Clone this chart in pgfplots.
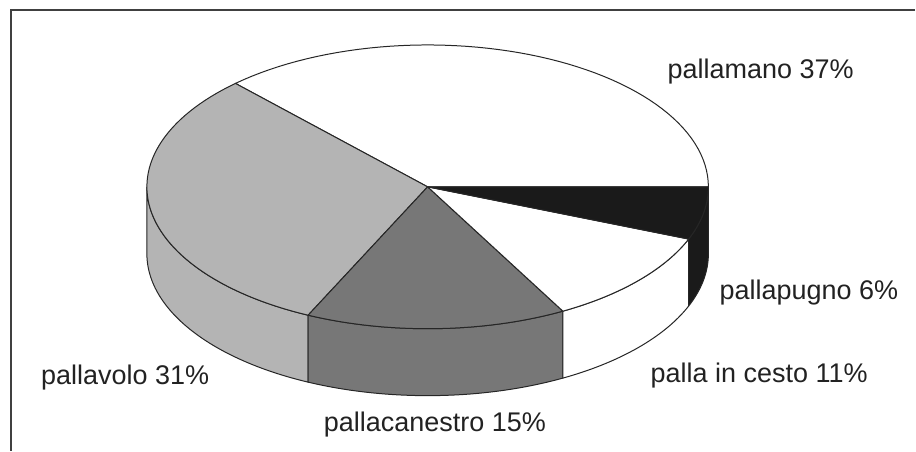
\documentclass[border=0pt]{standalone}
\usepackage{fontspec}
\setmainfont{Liberation Sans}
\usepackage{pgfplots}
\pgfplotsset{compat=1.18}
\definecolor{lgray}{HTML}{B4B4B4}
\definecolor{dgray}{HTML}{777777}
\definecolor{blk}{HTML}{1A1A1A}
\definecolor{ink}{HTML}{222222}
% top face of a slice from angle #1 to #2, fill #3
\newcommand{\topface}[3]{%
\addplot[fill=#3, draw=black!85, line width=1pt, line join=round, domain=0:3, samples=181]
 ({428+281*(min(x,1)-max(x-2,0))*cos(#1+(#2-#1)*min(max(x-1,0),1))},
  {264+142*(min(x,1)-max(x-2,0))*sin(#1+(#2-#1)*min(max(x-1,0),1))});}
% side wall of a slice from angle #1 to #2, fill #3
\newcommand{\wall}[3]{%
\addplot[fill=#3, draw=black!85, line width=1pt, line join=round, domain=0:4, samples=241]
 ({428+281*cos(#1+(#2-#1)*min(x,1)-(#2-#1)*min(max(x-2,0),1))},
  {264+142*sin(#1+(#2-#1)*min(x,1)-(#2-#1)*min(max(x-2,0),1))-67*(min(max(x-1,0),1)-max(x-3,0))});}
\begin{document}
\begin{tikzpicture}
% shares in percent
\def\sA{37}% pallamano
\def\sB{31}% pallavolo
\def\sC{15}% pallacanestro
\def\sD{11}% palla in cesto
\def\sE{6}%  pallapugno
\pgfmathsetmacro\aA{0}
\pgfmathsetmacro\aB{\aA+3.6*\sA}
\pgfmathsetmacro\aC{\aB+3.6*\sB}
\pgfmathsetmacro\aD{\aC+3.6*\sC}
\pgfmathsetmacro\aE{\aD+3.6*\sD}
\pgfmathsetmacro\aF{\aE+3.6*\sE}
\begin{axis}[
  hide axis, scale only axis,
  width=916pt, height=451pt,
  xmin=0, xmax=916, ymin=0, ymax=451,
  clip=false,
]
% full page extent (invisible)
\addplot[draw=none] coordinates {(0,0) (916,451)};
% frame
\addplot[draw=black!75, line width=1.6pt] coordinates {(916,441) (11,441) (11,0)};
% side walls (front half)
\wall{180}{\aC}{lgray}
\wall{\aC}{\aD}{dgray}
\wall{\aD}{\aE}{white}
\wall{\aE}{\aF}{blk}
% top faces
\topface{\aA}{\aB}{white}
\topface{\aB}{\aC}{lgray}
\topface{\aC}{\aD}{dgray}
\topface{\aD}{\aE}{white}
\topface{\aE}{\aF}{blk}
% labels
\tikzset{lbl/.style={anchor=base west, inner sep=0pt, text=ink, font=\fontsize{27}{31}\selectfont}}
\node[lbl] at (axis cs:668,372) {pallamano 37\%};
\node[lbl] at (axis cs:41,66) {pallavolo 31\%};
\node[lbl] at (axis cs:324,19) {pallacanestro 15\%};
\node[lbl] at (axis cs:651,68) {palla in cesto 11\%};
\node[lbl] at (axis cs:720,151) {pallapugno 6\%};
\end{axis}
\end{tikzpicture}
\end{document}
